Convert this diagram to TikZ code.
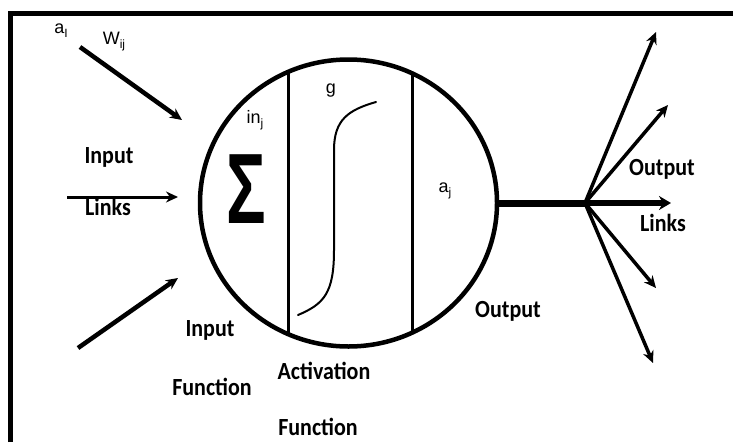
\documentclass[tikz,border=0pt]{standalone}
\usepackage{fontspec}
\setmainfont{Carlito}
\newfontfamily\labelfont{Liberation Sans}
\usetikzlibrary{arrows.meta,shapes.geometric}
\newcommand{\lsub}[1]{\raisebox{-4pt}{\fontsize{12}{12}\selectfont #1}}
\newcommand{\tallbox}[1]{\scalebox{1}[1.12]{#1}}
\begin{document}
\begin{tikzpicture}[x=1pt,y=-1pt,
  lbl/.style={font=\bfseries\fontsize{22}{22}\selectfont, inner sep=0, anchor=base},
  sym/.style={font=\labelfont\fontsize{18}{18}\selectfont, inner sep=0, anchor=base},
  inarrow/.style={line width=4.5pt, -{Stealth[length=12pt,width=11pt]}},
  midarrow/.style={line width=3pt, -{Stealth[length=12pt,width=11pt]}},
  fanarrow/.style={line width=3.5pt, -{Stealth[length=12pt,width=11pt]}},
  mainarrow/.style={line width=6pt, -{Stealth[length=12pt,width=14pt]}},
  divider/.style={line width=3pt},
]
\useasboundingbox (0,0) rectangle (733,442);
\fill[white] (0,0) rectangle (733,442);
% frame
\draw[line width=5pt] (10,442) -- (10,13) -- (733,13);

% neuron body
\node[draw, ellipse, line width=4.5pt, minimum width=297pt, minimum height=287pt, inner sep=0] (neuron) at (348.5,203) {};
\draw[divider] (288,72) -- (288,334);
\draw[divider] (412,73) -- (412,333);

% sigmoid
\draw[line width=2pt, line cap=round] (298,315) .. controls (324,304) and (334,293) .. (334,250) -- (334,150) .. controls (334,120) and (348,110) .. (376,102);

% sigma
\node[font=\labelfont\bfseries\fontsize{100}{100}\selectfont, inner sep=0] (sum) at (246,189) {\scalebox{0.66}[1]{Σ}};

% small labels
\node[sym] (ai) at (61,33) {a\lsub{I}};
\node[sym] (wij) at (114,44) {W\lsub{ij}};
\node[sym] (inj) at (255,123) {in\lsub{j}};
\node[sym] (g) at (331,93) {g};
\node[sym] (aj) at (445,192) {a\lsub{j}};

% text labels
\node[lbl] (inlinks1) at (109,163) {\tallbox{Input}};
\node[lbl] (inlinks2) at (108,215) {\tallbox{Links}};
\node[lbl] (infun1) at (210,336) {\tallbox{Input}};
\node[lbl] (infun2) at (212,395) {\tallbox{Function}};
\node[lbl] (actfun1) at (324,379) {\tallbox{Activation}};
\node[lbl] (actfun2) at (318,435) {\tallbox{Function}};
\node[lbl] (outlbl) at (508,317) {\tallbox{Output}};
\node[lbl] (outlinks1) at (662,175) {\tallbox{Output}};
\node[lbl] (outlinks2) at (663,231) {\tallbox{Links}};

% input links
\coordinate (i1s) at (80,47);   \coordinate (i1e) at (182,120);
\coordinate (i2s) at (67,197);  \coordinate (i2e) at (178,197);
\coordinate (i3s) at (78,348);  \coordinate (i3e) at (178,278);
\draw[inarrow] (i1s) -- (i1e);
\draw[midarrow] (i2s) -- (i2e);
\draw[inarrow] (i3s) -- (i3e);

% output links
\coordinate (hub) at (585,203);
\coordinate (o1) at (656,32);
\coordinate (o2) at (668,105);
\coordinate (o3) at (671,203);
\coordinate (o4) at (656,288);
\coordinate (o5) at (653,363);
\draw[line width=7pt] (neuron.east) -- (hub);
\draw[mainarrow] (hub) -- (o3);
\draw[fanarrow] (hub) -- (o1);
\draw[fanarrow] (hub) -- (o2);
\draw[fanarrow] (hub) -- (o4);
\draw[fanarrow] (hub) -- (o5);
\end{tikzpicture}
\end{document}
